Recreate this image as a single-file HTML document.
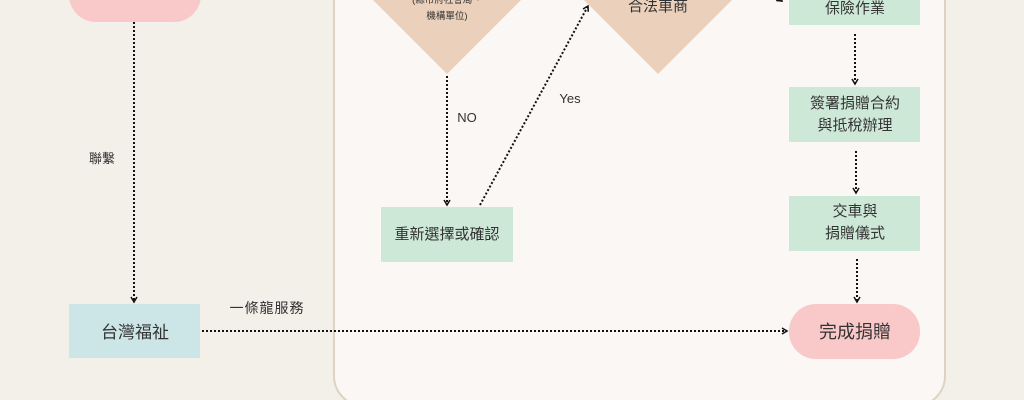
<!DOCTYPE html>
<html><head><meta charset="utf-8"><style>
html,body{margin:0;width:1024px;height:400px;overflow:hidden;background:#f3efe9;font-family:"Liberation Sans","Noto Sans CJK TC",sans-serif;}
svg{display:block}
text{font-family:"Liberation Sans","Noto Sans CJK TC",sans-serif;fill:#333}
</style></head><body>
<svg width="1024" height="400" viewBox="0 0 1024 400">
<defs><marker id="a" markerWidth="8" markerHeight="8" refX="6" refY="4" orient="auto" markerUnits="userSpaceOnUse"><path d="M1,1 L6,4 L1,7" fill="none" stroke="#111" stroke-width="1.5"/></marker></defs>
<rect x="0" y="0" width="1024" height="400" fill="#f3efe9"/>
<rect x="334" y="-40" width="611" height="446" rx="30" fill="#faf7f4" stroke="#ddd3c1" stroke-width="2"/>
<g stroke="#111" stroke-width="2" stroke-dasharray="2,2" fill="none" marker-end="url(#a)">
<line x1="134" y1="22" x2="134" y2="302"/>
<line x1="202" y1="331" x2="787" y2="331"/>
<line x1="447" y1="76" x2="447" y2="205"/>
<line x1="480" y1="205" x2="588" y2="6"/>
<line x1="855" y1="34" x2="855" y2="84"/>
<line x1="856" y1="151" x2="856" y2="193"/>
<line x1="857" y1="259" x2="857" y2="302"/>
<line x1="775" y1="-4" x2="782" y2="1"/>
</g>
<rect x="69" y="-33" width="132" height="55" rx="27" fill="#f9c9c9"/>
<text x="135" y="-2" font-size="17" text-anchor="middle">愛心捐贈</text>
<rect x="69" y="304" width="131" height="54" fill="#cce5e6"/>
<text x="135" y="338" font-size="17" text-anchor="middle">台灣福祉</text>
<text x="102" y="163" font-size="13" text-anchor="middle">聯繫</text>
<text x="267" y="313" font-size="14" text-anchor="middle" letter-spacing="1">一條龍服務</text>
<polygon points="447,74 372,-1 522,-1" fill="#ebd1bb"/>
<text x="447" y="3" font-size="9.5" text-anchor="middle">(縣市府社會局、</text>
<text x="447" y="19" font-size="9.5" text-anchor="middle">機構單位)</text>
<polygon points="658,74 583,-1 733,-1" fill="#ebd1bb"/>
<text x="658" y="11" font-size="15" text-anchor="middle">合法車商</text>
<text x="467" y="122" font-size="13" text-anchor="middle" fill="#444">NO</text>
<text x="570" y="103" font-size="13" text-anchor="middle" fill="#444">Yes</text>
<rect x="381" y="207" width="132" height="55" fill="#cee8d8"/>
<text x="447" y="239" font-size="15" text-anchor="middle">重新選擇或確認</text>
<rect x="789" y="-30" width="131" height="55" fill="#cee8d8"/>
<text x="855" y="13" font-size="15" text-anchor="middle">保險作業</text>
<rect x="789" y="87" width="131" height="55" fill="#cee8d8"/>
<text x="855" y="108" font-size="15" text-anchor="middle">簽署捐贈合約</text>
<text x="855" y="130" font-size="15" text-anchor="middle">與抵稅辦理</text>
<rect x="789" y="196" width="131" height="55" fill="#cee8d8"/>
<text x="855" y="216" font-size="15" text-anchor="middle">交車與</text>
<text x="855" y="238" font-size="15" text-anchor="middle">捐贈儀式</text>
<rect x="789" y="304" width="131" height="55" rx="27" fill="#f9c9c9"/>
<text x="855" y="338" font-size="18" text-anchor="middle">完成捐贈</text>
</svg>
</body></html>
